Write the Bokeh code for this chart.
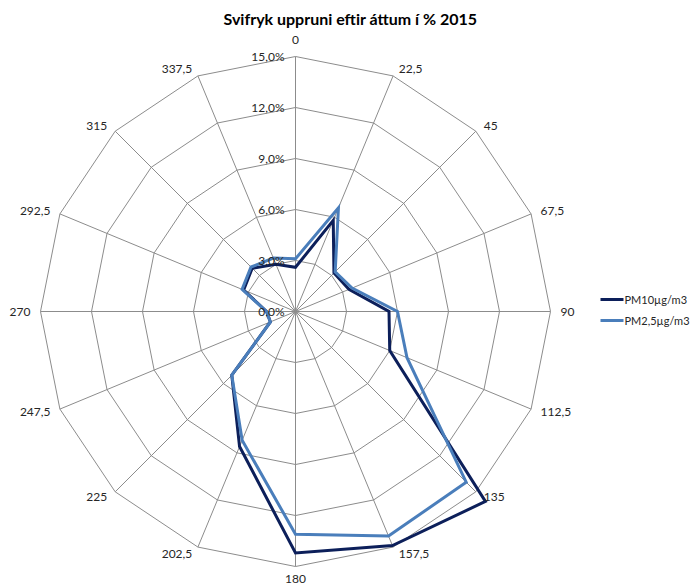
import numpy as np
from bokeh.plotting import figure
from bokeh.models import Range1d
from bokeh.core.properties import value
from bokeh.embed import file_html
from bokeh.resources import INLINE

title_text = "Svifryk uppruni eftir áttum í % 2015"
direction_labels = ["0", "22,5", "45", "67,5", "90", "112,5", "135", "157,5",
                    "180", "202,5", "225", "247,5", "270", "292,5", "315", "337,5"]
direction_deg = [0, 22.5, 45, 67.5, 90, 112.5, 135, 157.5,
                 180, 202.5, 225, 247.5, 270, 292.5, 315, 337.5]
pm10 = [2.6, 5.8, 3.2, 3.4, 5.5, 6.0, 15.8, 14.9, 14.2, 8.6, 5.3, 1.6, 1.7, 3.3, 3.6, 3.0]
pm25 = [3.1, 6.6, 3.3, 3.6, 6.0, 7.1, 14.2, 14.3, 13.1, 8.2, 5.3, 1.6, 1.7, 3.4, 3.7, 3.4]
series_names = ["PM10µg/m3", "PM2,5µg/m3"]
series_colors = ["#0c1f5a", "#4a7ebb"]
ring_values = [0, 3, 6, 9, 12, 15]
ring_labels = ["0,0%", "3,0%", "6,0%", "9,0%", "12,0%", "15,0%"]

FONT = "Lato"
S = 255.0 / 15.0  # pixels per percent
theta = np.deg2rad(np.array(direction_deg))
sx, sy = np.sin(theta), np.cos(theta)

p = figure(width=692, height=587, output_backend="svg", toolbar_location=None,
           x_range=Range1d(-295, 397), y_range=Range1d(-276, 311),
           min_border=0, outline_line_color=None)
p.axis.visible = False
p.grid.visible = False
p.background_fill_color = "white"
p.border_fill_color = "white"

grid_col = "#8c8c8c"
# rings
for v in ring_values[1:]:
    r = v * S
    p.patch(list(r * sx), list(r * sy), fill_color=None, line_color=grid_col, line_width=1)
# spokes
R = ring_values[-1] * S
p.segment(x0=[0] * len(sx), y0=[0] * len(sx), x1=list(R * sx), y1=list(R * sy),
          line_color=grid_col, line_width=1)

# series
for vals, col in zip([pm10, pm25], series_colors):
    r = np.array(vals) * S
    p.patch(list(r * sx), list(r * sy), fill_color=None,
            line_color=col, line_width=3, line_join="miter")

# radial tick labels
p.text(x=[-11] * len(ring_values), y=[v * S for v in ring_values], text=ring_labels,
       text_align="right", text_baseline="middle", text_font=value(FONT),
       text_font_size="12px", text_color="#262626")

# direction labels
lx, ly, la = [], [], []
for d, s_, c_ in zip(direction_deg, sx, sy):
    if d == 0:
        rr, al = 272, "center"
    elif d == 180:
        rr, al = 267, "center"
    else:
        rr = 262
        al = "left" if s_ > 0 else "right"
    lx.append(rr * s_ + (3 if al == "left" else (-3 if al == "right" else 0)))
    ly.append(rr * c_)
    la.append(al)
for al in ("left", "right", "center"):
    idx = [i for i in range(len(la)) if la[i] == al]
    p.text(x=[lx[i] for i in idx], y=[ly[i] for i in idx],
           text=[direction_labels[i] for i in idx], text_align=al,
           text_baseline="middle", text_font=value(FONT), text_font_size="12px",
           text_color="#262626")

# legend
leg_y = [12, -9]
for yy, col, name in zip(leg_y, series_colors, series_names):
    p.line([305, 328], [yy, yy], line_color=col, line_width=3)
    p.text(x=[329], y=[yy], text=[name], text_align="left", text_baseline="middle",
           text_font=value(FONT), text_font_size="11px", text_color="#262626")

# title
p.text(x=[55], y=[293], text=[title_text], text_align="center", text_baseline="middle",
       text_font=value(FONT), text_font_size="16px", text_font_style="bold",
       text_color="#000000")

open("out.html", "w").write(file_html(p, INLINE))
